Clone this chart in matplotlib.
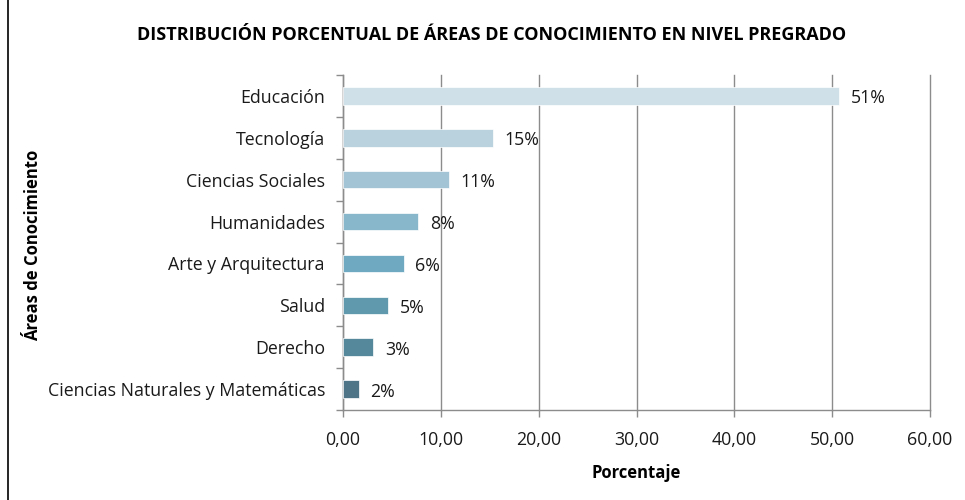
import matplotlib.pyplot as plt
from matplotlib.lines import Line2D
from matplotlib.ticker import FixedLocator, FuncFormatter
import numpy as np

plt.rcParams['font.family'] = ['Open Sans', 'DejaVu Sans']

areas = ['Educación', 'Tecnología', 'Ciencias Sociales', 'Humanidades',
         'Arte y Arquitectura', 'Salud', 'Derecho',
         'Ciencias Naturales y Matemáticas']
valores = [50.7, 15.3, 10.8, 7.7, 6.2, 4.6, 3.1, 1.6]
etiquetas = ['51%', '15%', '11%', '8%', '6%', '5%', '3%', '2%']
colores = ['#d0e0e8', '#b9d2de', '#a3c4d5', '#88b7cc', '#6fa8c1',
           '#6098ae', '#56889c', '#4e7487']

fig = plt.figure(figsize=(9.65, 5.0), dpi=100)
ax = fig.add_axes([343 / 965, 1 - 410 / 500, (930 - 343) / 965, (410 - 75) / 500])

y = np.arange(len(areas))
ax.barh(y, valores, height=0.42, color=colores, edgecolor='white', linewidth=0.5, zorder=3)
for yi, v, t in zip(y, valores, etiquetas):
    ax.text(v + 1.2, yi + 0.06, t, va='center', ha='left', fontsize=12.8, color='#1a1a1a')

ax.set_ylim(len(areas) - 0.5, -0.5)
ax.set_xlim(0, 60)
ax.set_xticks(np.arange(0, 61, 10))
ax.xaxis.set_major_formatter(FuncFormatter(lambda v, p: f'{v:.2f}'.replace('.', ',')))
ax.set_yticks(y)
ax.set_yticklabels(areas)
ax.yaxis.set_minor_locator(FixedLocator(np.arange(-0.5, len(areas), 1)))
ax.tick_params(axis='y', which='major', length=0, pad=13, labelsize=12.8, labelcolor='#1a1a1a')
ax.tick_params(axis='y', which='minor', length=5, color='#8c8c8c', width=1)
ax.tick_params(axis='x', length=5, color='#8c8c8c', width=1, pad=10,
               labelsize=12.8, labelcolor='#1a1a1a')

ax.grid(axis='x', color='#8c8c8c', linewidth=1, zorder=0)
for gl in ax.get_xgridlines():
    gl.set_clip_on(False)
for s in ['top', 'right']:
    ax.spines[s].set_visible(False)
for s in ['left', 'bottom']:
    ax.spines[s].set_color('#8c8c8c')
    ax.spines[s].set_linewidth(1)

ax.set_xlabel('Porcentaje', fontsize=12, fontweight='bold', labelpad=11)
fig.text(33 / 965, 1 - 245 / 500, 'Áreas de Conocimiento', rotation=90,
         ha='center', va='center', fontsize=12, fontweight='bold')
fig.text(492 / 965, 1 - 35 / 500,
         'DISTRIBUCIÓN PORCENTUAL DE ÁREAS DE CONOCIMIENTO EN NIVEL PREGRADO',
         ha='center', va='center', fontsize=13, fontweight='bold')

fig.add_artist(Line2D([8 / 965, 8 / 965], [0, 1], color='black', linewidth=1.2))

fig.savefig('out.png', dpi=100)
